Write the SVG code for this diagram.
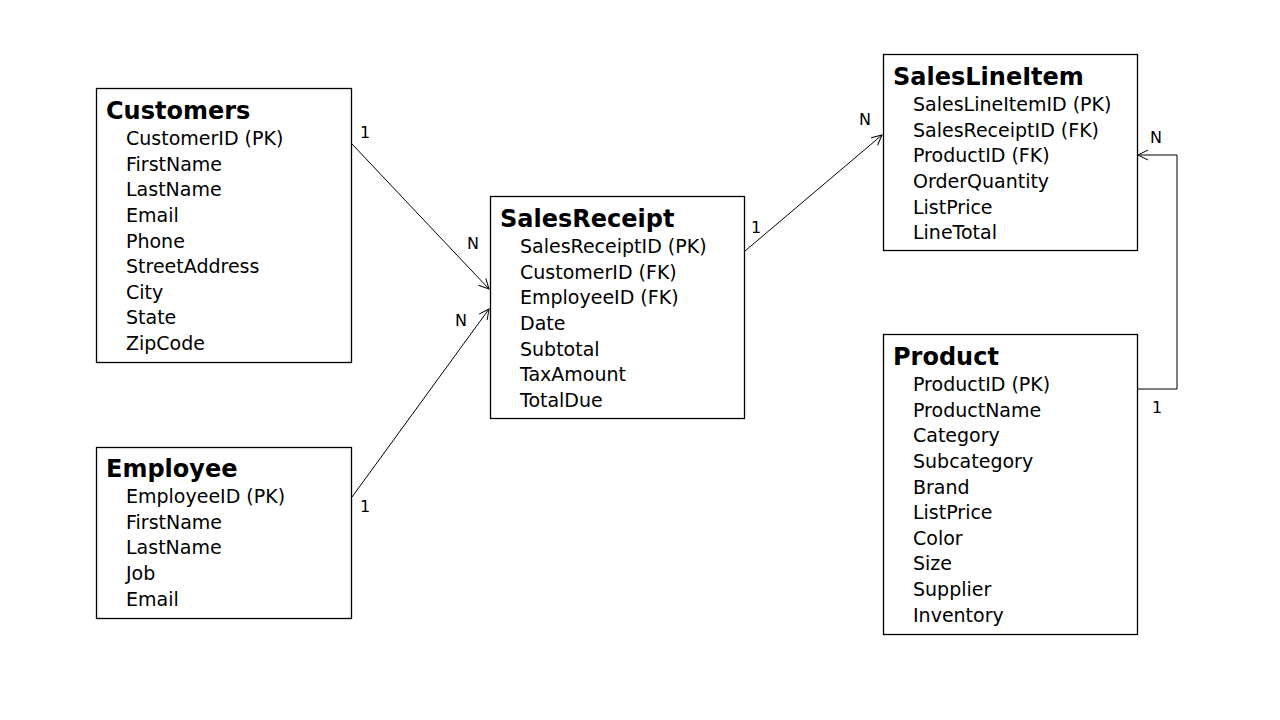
<svg xmlns="http://www.w3.org/2000/svg" width="1280" height="720" viewBox="0 0 1280 720">
<style>
.box{fill:#fff;stroke:#000;stroke-width:1.3}
.t{font-family:"DejaVu Sans","Liberation Sans",sans-serif;font-weight:bold;font-size:24px;fill:#000}
.f{font-family:"DejaVu Sans","Liberation Sans",sans-serif;font-size:19px;fill:#000}
.c{fill:none;stroke:#000;stroke-width:1}
.l{font-family:"DejaVu Sans","Liberation Sans",sans-serif;font-size:16px;fill:#000}
</style>
<defs>
<marker id="arr" markerWidth="12" markerHeight="12" refX="11" refY="6" orient="auto" markerUnits="userSpaceOnUse">
<path d="M1,1 L11,6 L1,11" fill="none" stroke="#000" stroke-width="1"/>
</marker>
</defs>
<rect width="1280" height="720" fill="#fff"/>
<g id="connectors">
<line class="c" x1="352" y1="144" x2="489" y2="289" marker-end="url(#arr)"/>
<line class="c" x1="352" y1="497" x2="489" y2="309" marker-end="url(#arr)"/>
<line class="c" x1="745" y1="251" x2="882" y2="135" marker-end="url(#arr)"/>
<polyline class="c" points="1138,389 1177,389 1177,155 1138,155" marker-end="url(#arr)"/>
<text class="l" x="360" y="138">1</text>
<text class="l" x="467" y="249">N</text>
<text class="l" x="455" y="326">N</text>
<text class="l" x="360" y="512">1</text>
<text class="l" x="751" y="233">1</text>
<text class="l" x="859" y="125">N</text>
<text class="l" x="1150" y="143">N</text>
<text class="l" x="1152" y="413">1</text>
</g>
<g id="customers">
<rect class="box" x="96.5" y="88.5" width="255" height="274"/>
<text class="t" x="106" y="119">Customers</text>
<text class="f" x="126" y="145">CustomerID (PK)</text>
<text class="f" x="126" y="171">FirstName</text>
<text class="f" x="126" y="196">LastName</text>
<text class="f" x="126" y="222">Email</text>
<text class="f" x="126" y="248">Phone</text>
<text class="f" x="126" y="273">StreetAddress</text>
<text class="f" x="126" y="299">City</text>
<text class="f" x="126" y="324">State</text>
<text class="f" x="126" y="350">ZipCode</text>
</g>
<g id="employee">
<rect class="box" x="96.5" y="447.5" width="255" height="171"/>
<text class="t" x="106" y="477">Employee</text>
<text class="f" x="126" y="503">EmployeeID (PK)</text>
<text class="f" x="126" y="529">FirstName</text>
<text class="f" x="126" y="554">LastName</text>
<text class="f" x="126" y="580">Job</text>
<text class="f" x="126" y="606">Email</text>
</g>
<g id="salesreceipt">
<rect class="box" x="490.5" y="196.5" width="254" height="222"/>
<text class="t" x="500" y="227">SalesReceipt</text>
<text class="f" x="520" y="253">SalesReceiptID (PK)</text>
<text class="f" x="520" y="279">CustomerID (FK)</text>
<text class="f" x="520" y="304">EmployeeID (FK)</text>
<text class="f" x="520" y="330">Date</text>
<text class="f" x="520" y="356">Subtotal</text>
<text class="f" x="520" y="381">TaxAmount</text>
<text class="f" x="520" y="407">TotalDue</text>
</g>
<g id="saleslineitem">
<rect class="box" x="883.5" y="54.5" width="254" height="196"/>
<text class="t" x="893" y="85">SalesLineItem</text>
<text class="f" x="913" y="111">SalesLineItemID (PK)</text>
<text class="f" x="913" y="137">SalesReceiptID (FK)</text>
<text class="f" x="913" y="162">ProductID (FK)</text>
<text class="f" x="913" y="188">OrderQuantity</text>
<text class="f" x="913" y="214">ListPrice</text>
<text class="f" x="913" y="239">LineTotal</text>
</g>
<g id="product">
<rect class="box" x="883.5" y="334.5" width="254" height="300"/>
<text class="t" x="893" y="365">Product</text>
<text class="f" x="913" y="391">ProductID (PK)</text>
<text class="f" x="913" y="417">ProductName</text>
<text class="f" x="913" y="442">Category</text>
<text class="f" x="913" y="468">Subcategory</text>
<text class="f" x="913" y="494">Brand</text>
<text class="f" x="913" y="519">ListPrice</text>
<text class="f" x="913" y="545">Color</text>
<text class="f" x="913" y="570">Size</text>
<text class="f" x="913" y="596">Supplier</text>
<text class="f" x="913" y="622">Inventory</text>
</g>
</svg>
